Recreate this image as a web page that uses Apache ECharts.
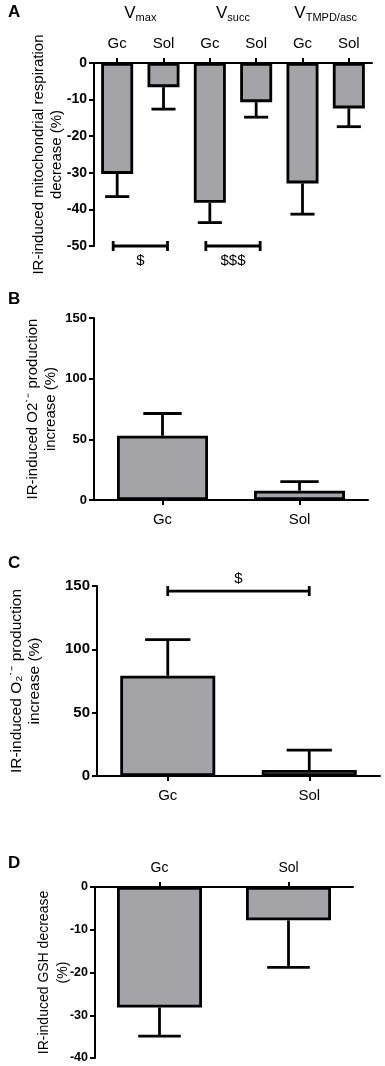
<!DOCTYPE html>
<html>
<head>
<meta charset="utf-8">
<script src="https://cdn.jsdelivr.net/npm/echarts@6/dist/echarts.min.js"></script>
<style>
  html, body { margin: 0; padding: 0; background: #fff; }
  #chart { width: 385px; height: 1066px; }
</style>
</head>
<body>
<div id="chart"></div>
<script>
// Panel A: mitochondrial respiration decrease
const catsA = ['Gc', 'Sol', 'Gc', 'Sol', 'Gc', 'Sol'];
const groupsA = ['max', 'succ', 'TMPD/asc']; // subscripts of V
const valuesA = [-30.3, -6.6, -38.2, -10.7, -32.9, -12.4];
const errA = [-36.5, -12.6, -43.6, -14.8, -41.3, -17.4];
const bracketsA = [[0, 1, -50], [2, 3, -50]];
const bracketTextA = ['$', '$$$'];

// Panel B: O2 production increase
const catsB = ['Gc', 'Sol'];
const valuesB = [52.9, 7.7];
const errB = [71.3, 15.1];

// Panel C: O2 production increase
const catsC = ['Gc', 'Sol'];
const valuesC = [79.1, 4.7];
const errC = [107.7, 20.5];
const bracketsC = [[0, 1, 146]];
const bracketTextC = ['$'];

// Panel D: GSH decrease
const catsD = ['Gc', 'Sol'];
const valuesD = [-28.2, -7.8];
const errD = [-34.9, -18.8];

const FONT = 'Arial, "Liberation Sans", sans-serif';
const BAR_FILL = '#a4a3a8';

const chart = echarts.init(document.getElementById('chart'));

// error bar: vertical whisker from bar end with a cap
function errItem(capFrac) {
  return function (params, api) {
    const i = api.value(0);
    const p0 = api.coord([i, api.value(1)]);
    const p1 = api.coord([i, api.value(2)]);
    const half = api.size([1, 0])[0] * capFrac / 2;
    const st = { stroke: '#000', lineWidth: 2.8 };
    return {
      type: 'group',
      children: [
        { type: 'line', shape: { x1: p0[0], y1: p0[1], x2: p1[0], y2: p1[1] }, style: st },
        { type: 'line', shape: { x1: p1[0] - half, y1: p1[1], x2: p1[0] + half, y2: p1[1] }, style: st }
      ]
    };
  };
}

// significance bracket with its text
function bracketItem(texts, textDy, ext) {
  return function (params, api) {
    const a = api.coord([api.value(0), api.value(2)]);
    const b = api.coord([api.value(1), api.value(2)]);
    const x1 = a[0] - ext, x2 = b[0] + ext, y = a[1];
    const st = { stroke: '#000', lineWidth: 2.8 };
    return {
      type: 'group',
      children: [
        { type: 'line', shape: { x1: x1, y1: y, x2: x2, y2: y }, style: st },
        { type: 'line', shape: { x1: x1, y1: y - 5, x2: x1, y2: y + 5 }, style: st },
        { type: 'line', shape: { x1: x2, y1: y - 5, x2: x2, y2: y + 5 }, style: st },
        {
          type: 'text',
          style: {
            text: texts[params.dataIndex], x: (x1 + x2) / 2, y: y + textDy,
            align: 'center', verticalAlign: 'middle',
            font: '15px ' + FONT, fill: '#000'
          }
        }
      ]
    };
  };
}

function yAxisBase(grid, min, max, interval, name, nameGap, nameSize, lineH, labelSize) {
  return {
    type: 'value', gridIndex: grid, min: min, max: max, interval: interval,
    name: name, nameLocation: 'middle', nameGap: nameGap, nameRotate: 90,
    nameMoveOverlap: false,
    nameTextStyle: { fontFamily: FONT, fontSize: nameSize, color: '#000', lineHeight: lineH },
    axisLine: { show: true, lineStyle: { color: '#000', width: 2 } },
    axisTick: { show: true, length: 5, lineStyle: { color: '#000', width: 2 } },
    axisLabel: { color: '#000', fontFamily: FONT, fontWeight: 'bold', fontSize: labelSize, margin: 7 },
    splitLine: { show: false }
  };
}

function xAxisBase(grid, data, position, fontSize) {
  return {
    type: 'category', gridIndex: grid, data: data, position: position,
    axisLine: { show: true, onZero: false, lineStyle: { color: '#000', width: 2 } },
    axisTick: { show: true, alignWithLabel: true, length: 5, lineStyle: { color: '#000', width: 2 } },
    axisLabel: { color: '#000', fontFamily: FONT, fontSize: fontSize, margin: 12, interval: 0 }
  };
}

function barSeries(xi, yi, values, width) {
  return {
    type: 'bar', xAxisIndex: xi, yAxisIndex: yi, data: values, barWidth: width,
    itemStyle: { color: BAR_FILL, borderColor: '#000', borderWidth: 2.8 },
    silent: true
  };
}

function errSeries(xi, yi, values, errs, capFrac) {
  return {
    type: 'custom', xAxisIndex: xi, yAxisIndex: yi,
    data: values.map((v, i) => [i, v, errs[i]]),
    encode: { x: 0, y: [1, 2] },
    renderItem: errItem(capFrac), z: 3, silent: true
  };
}

const panelLetter = (t, y) => ({
  type: 'text', left: 8, top: y,
  style: { text: t, font: 'bold 17px ' + FONT, fill: '#000' }
});

const option = {
  animation: false,
  backgroundColor: '#fff',
  grid: [
    { left: 94, top: 63, width: 278, height: 183 },
    { left: 94, top: 318, width: 274, height: 182 },
    { left: 95, top: 586, width: 285, height: 190 },
    { left: 95, top: 887, width: 258, height: 171 }
  ],
  xAxis: [
    xAxisBase(0, catsA, 'top', 15),
    {
      type: 'category', gridIndex: 0, data: groupsA, position: 'top',
      axisLine: { show: false }, axisTick: { show: false },
      axisLabel: {
        margin: 40, interval: 0, hideOverlap: false,
        formatter: (s) => '{v|V}{s|' + s + '}',
        rich: {
          v: { fontFamily: FONT, fontSize: 17, color: '#000', lineHeight: 20 },
          s: { fontFamily: FONT, fontSize: 11, color: '#000', lineHeight: 20, verticalAlign: 'bottom', padding: [8, 0, 0, 0] }
        }
      }
    },
    xAxisBase(1, catsB, 'bottom', 15),
    xAxisBase(2, catsC, 'bottom', 15),
    xAxisBase(3, catsD, 'top', 14)
  ],
  yAxis: [
    yAxisBase(0, -50, 0, 10, 'IR-induced mitochondrial respiration\ndecrease (%)', 28, 15, 18, 14),
    yAxisBase(1, 0, 150, 50, 'IR-induced O2˙⁻ production\nincrease (%)', 34, 15, 18, 13),
    yAxisBase(2, 0, 150, 50, 'IR-induced O₂˙⁻ production\nincrease (%)', 53, 15.5, 18, 15),
    yAxisBase(3, -40, 0, 10, 'IR-induced GSH decrease\n(%)', 22, 14, 19, 12.5)
  ],
  graphic: [
    panelLetter('A', 4),
    panelLetter('B', 291),
    panelLetter('C', 555),
    panelLetter('D', 855)
  ],
  series: [
    barSeries(0, 0, valuesA, 32),
    errSeries(0, 0, valuesA, errA, 0.52),
    {
      type: 'custom', xAxisIndex: 0, yAxisIndex: 0, data: bracketsA,
      encode: { x: [0, 1], y: 2 },
      renderItem: bracketItem(bracketTextA, 15, 4), z: 3, silent: true
    },
    barSeries(2, 1, valuesB, 91),
    errSeries(2, 1, valuesB, errB, 0.28),
    barSeries(3, 2, valuesC, 95),
    errSeries(3, 2, valuesC, errC, 0.32),
    {
      type: 'custom', xAxisIndex: 3, yAxisIndex: 2, data: bracketsC,
      encode: { x: [0, 1], y: 2 },
      renderItem: bracketItem(bracketTextC, -12, 0), z: 3, silent: true
    },
    barSeries(4, 3, valuesD, 85),
    errSeries(4, 3, valuesD, errD, 0.33)
  ]
};

chart.setOption(option);
</script>
</body>
</html>
